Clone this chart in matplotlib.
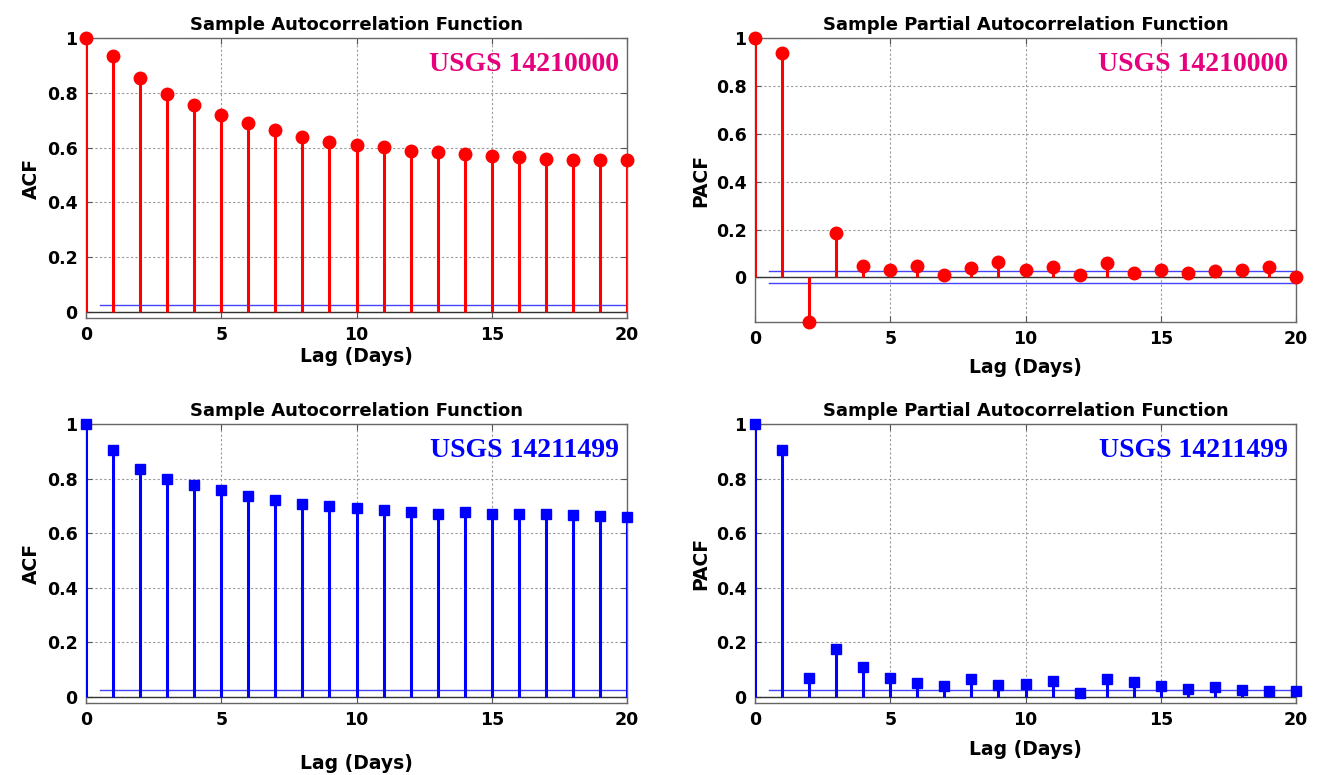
import matplotlib
matplotlib.use("Agg")
from matplotlib import pyplot as plt
import numpy as np

lags = np.arange(21)

acf_14210000 = [1.0, 0.936, 0.853, 0.797, 0.755, 0.720, 0.691, 0.663, 0.639, 0.622, 0.610,
                0.601, 0.589, 0.583, 0.576, 0.571, 0.567, 0.559, 0.555, 0.554, 0.553]
pacf_14210000 = [1.0, 0.936, -0.186, 0.186, 0.047, 0.031, 0.047, 0.011, 0.039, 0.064, 0.033,
                 0.044, 0.011, 0.061, 0.020, 0.031, 0.017, 0.029, 0.033, 0.044, 0.004]
acf_14211499 = [1.0, 0.905, 0.835, 0.800, 0.778, 0.757, 0.738, 0.720, 0.707, 0.698, 0.692,
                0.686, 0.676, 0.672, 0.676, 0.672, 0.672, 0.670, 0.666, 0.663, 0.661]
pacf_14211499 = [1.0, 0.905, 0.071, 0.176, 0.111, 0.068, 0.052, 0.041, 0.065, 0.043, 0.048,
                 0.058, 0.015, 0.065, 0.055, 0.039, 0.031, 0.037, 0.027, 0.023, 0.023]

conf_bound = 0.025
stations = ["USGS 14210000", "USGS 14211499"]
titles = ["Sample Autocorrelation Function", "Sample Partial Autocorrelation Function"]
ylabels = ["ACF", "PACF"]

W, H = 1318, 775
fig = plt.figure(figsize=(W / 100, H / 100), dpi=100)


def px_axes(l, t, r, b):
    return fig.add_axes([l / W, 1 - b / H, (r - l) / W, (b - t) / H])


def panel(ax, vals, color, marker, station, title, ylabel, ymin, show_lower):
    ax.vlines(lags, 0, vals, color=color, lw=2.2, zorder=3)
    ax.plot(lags, vals, ls="none", marker=marker, color=color,
            markersize=9 if marker == "o" else 7.5, zorder=4, clip_on=False)
    ax.axhline(0, color="#333333", lw=1, zorder=2)
    ax.plot([0.5, 20], [conf_bound, conf_bound], color="#4444ff", lw=1, zorder=2)
    if show_lower:
        ax.plot([0.5, 20], [-conf_bound, -conf_bound], color="#4444ff", lw=1, zorder=2)
    ax.set_xlim(0, 20)
    ax.set_ylim(ymin, 1)
    ax.set_xticks([0, 5, 10, 15, 20])
    ax.set_yticks([0, 0.2, 0.4, 0.6, 0.8, 1])
    ax.set_yticklabels(["0", "0.2", "0.4", "0.6", "0.8", "1"])
    ax.grid(True, ls=(0, (2, 2)), color="#999999", lw=0.8)
    ax.tick_params(direction="in", top=True, right=True, labelsize=12.5,
                   length=4, color="#555555", pad=6)
    for lab in ax.get_xticklabels() + ax.get_yticklabels():
        lab.set_fontweight("bold")
    for s in ax.spines.values():
        s.set_color("#666666")
        s.set_linewidth(1)
    ax.set_title(title, fontsize=13, fontweight="bold", pad=6)
    ax.set_ylabel(ylabel, fontsize=13.5, fontweight="bold")
    ax.set_xlabel("Lag (Days)", fontsize=13.5, fontweight="bold")
    ax.text(0.985, 0.905, station, transform=ax.transAxes, ha="right", va="center",
            family="Liberation Serif", fontweight="bold", fontsize=20,
            color=color if color != "red" else "#e6007e")


ax1 = px_axes(86, 38, 627, 318)
panel(ax1, acf_14210000, "red", "o", stations[0], titles[0], ylabels[0], -0.022, False)
ax1.xaxis.labelpad = 2

ax2 = px_axes(755, 38, 1296, 322)
panel(ax2, pacf_14210000, "red", "o", stations[0], titles[1], ylabels[1], -0.186, True)
ax2.xaxis.labelpad = 7

ax3 = px_axes(86, 424, 627, 703)
panel(ax3, acf_14211499, "blue", "s", stations[1], titles[0], ylabels[0], -0.022, False)
ax3.xaxis.labelpad = 18

ax4 = px_axes(755, 424, 1296, 703)
panel(ax4, pacf_14211499, "blue", "s", stations[1], titles[1], ylabels[1], -0.022, False)
ax4.xaxis.labelpad = 8

fig.savefig("out.png", dpi=100)
